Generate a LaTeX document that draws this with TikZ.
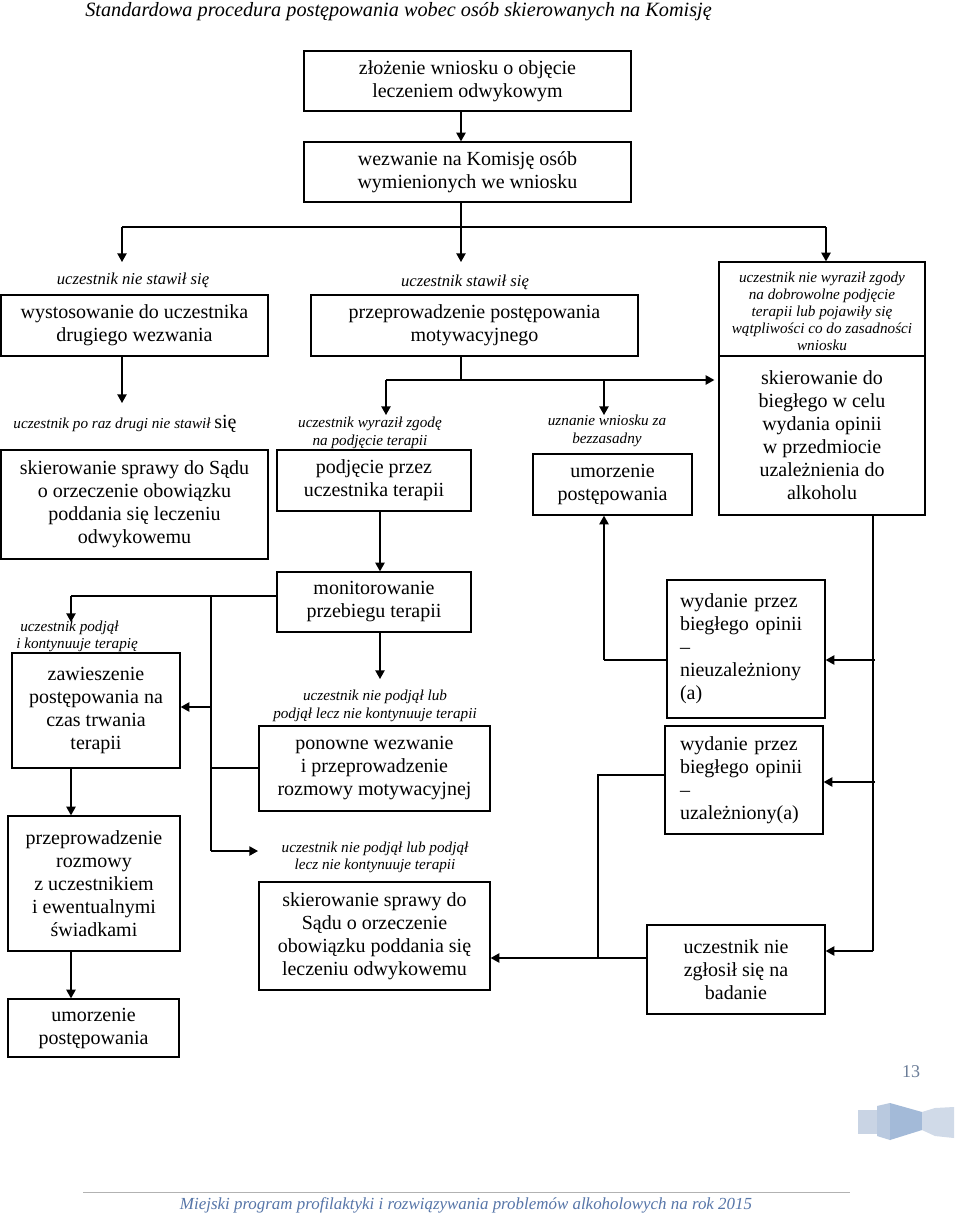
\documentclass[tikz,border=0pt]{standalone}
\usepackage{fontspec}
\setmainfont{Liberation Serif}
\usetikzlibrary{arrows.meta}
\definecolor{footblue}{HTML}{5675A8}
\definecolor{pgcol}{HTML}{6B7D98}
\definecolor{ribA}{HTML}{C9D4E4}
\definecolor{ribB}{HTML}{A3BAD8}
\definecolor{ribC}{HTML}{B9C9DF}
\definecolor{ribD}{HTML}{D0DAE8}
\begin{document}
\begin{tikzpicture}[x=0.75pt,y=-0.75pt,
 box/.style 2 args={draw, line width=1pt, minimum width=#1*0.75pt, minimum height=#2*0.75pt, inner sep=0pt, align=center, font=\fontsize{15}{17.25}\selectfont},
 lbl/.style={font=\fontsize{12.5}{13}\selectfont\itshape, align=center, inner sep=0pt},
 slbl/.style={font=\fontsize{11.4}{13}\selectfont\itshape, align=center, inner sep=0pt},
 ln/.style={line width=1pt},
 arr/.style={line width=1pt, -{Triangle[length=6.5pt,width=7pt]}},
]
\useasboundingbox[fill=white] (0,0) rectangle (960,1218);

% header
\node[font=\fontsize{15.2}{18}\selectfont\itshape, anchor=west, inner sep=0pt] (hd) at (85,12) {Standardowa procedura postępowania wobec osób skierowanych na Komisję};

% top boxes
\node[box={327}{60}] (b1) at (467.5,81) {złożenie wniosku o objęcie\\leczeniem odwykowym};
\node[box={327}{60}] (b2) at (467.5,172) {wezwanie na Komisję osób\\wymienionych we wniosku};
\coordinate (jc) at (461,227);
\coordinate (jl) at (122,227);
\coordinate (jr) at (826,227);
\draw[arr] (b1.south -| jc) -- (b2.north -| jc);
\draw[ln] (b2.south -| jc) -- (jc);
\draw[ln] (jl) -- (jr);
\coordinate (tl) at (122,262);
\coordinate (tm) at (461,262);
\draw[arr] (jl) -- (tl);
\draw[arr] (jc) -- (tm);

% left column top
\node[lbl] (l1) at (133,280) {uczestnik nie stawił się};
\node[box={267}{61}] (w1) at (134.5,325.5) {wystosowanie do uczestnika\\drugiego wezwania};
\coordinate (t2) at (122,403);
\draw[arr] (w1.south -| t2) -- (t2);
\node[slbl] (l2) at (125,424) {uczestnik po raz drugi nie stawił {\upshape\fontsize{15}{17}\selectfont się}};
\node[box={267}{109}] (s1) at (134.5,504.5) {skierowanie sprawy do Sądu\\o orzeczenie obowiązku\\poddania się leczeniu\\odwykowemu};

% middle
\node[lbl] (l3) at (465,282) {uczestnik stawił się};
\node[box={327}{61}] (m1) at (474.5,325.5) {przeprowadzenie postępowania\\motywacyjnego};

% right big box
\node[box={206}{94}] (R0) at (822,309) {};
\node[font=\fontsize{11.4}{12.75}\selectfont\itshape, align=center, inner sep=0pt] (R0t) at (822,311) {uczestnik nie wyraził zgody\\na dobrowolne podjęcie\\terapii lub pojawiły się\\wątpliwości co do zasadności\\wniosku};
\node[box={206}{159}] (R) at (822,435.5) {skierowanie do\\biegłego w celu\\wydania opinii\\w przedmiocie\\uzależnienia do\\alkoholu};
\draw[arr] (jr) -- (R0.north -| jr);

\coordinate (k) at (461,380);
\coordinate (kl) at (386,380);
\coordinate (km) at (604,380);
\coordinate (a4) at (386,415);
\coordinate (a5) at (604,415);
\draw[ln] (m1.south -| k) -- (k);
\draw[arr, shorten >=3pt] (kl) -- (R.west |- kl);
\draw[arr] (kl) -- (a4);
\draw[arr] (km) -- (a5);

\node[slbl] (l4) at (370,433) {uczestnik wyraził zgodę\\na podjęcie terapii};
\node[box={194}{61}] (p1) at (374,480.5) {podjęcie przez\\uczestnika terapii};
\node[slbl] (l5) at (607,431) {uznanie wniosku za\\bezzasadny};
\node[box={159}{61}] (u1) at (612.5,484.5) {umorzenie\\postępowania};

% monitoring
\node[box={194}{60}] (mo) at (374,602) {monitorowanie\\przebiegu terapii};
\coordinate (mx) at (380,0);
\draw[arr] (p1.south -| mx) -- (mo.north -| mx);

\coordinate (q) at (211,596);
\coordinate (ql) at (71,596);
\coordinate (qd) at (71,622);
\coordinate (qb) at (211,851);
\coordinate (qe) at (258,851);
\coordinate (qz) at (211,707);
\draw[ln] (mo.west |- q) -- (ql);
\draw[arr] (ql) -- (qd);
\draw[ln] (q) -- (qb);
\draw[arr] (qb) -- (qe);

\node[slbl, align=left, anchor=west] (l6) at (16,636.5) {\hspace*{3pt}uczestnik podjął\\i kontynuuje terapię};
\node[box={168}{115}] (zw) at (96,710.5) {zawieszenie\\postępowania na\\czas trwania\\terapii};
\draw[arr] (qz) -- (zw.east |- qz);
\node[box={172}{135}] (pr) at (94,883.5) {przeprowadzenie\\rozmowy\\z uczestnikiem\\i ewentualnymi\\świadkami};
\node[box={171}{58}] (u2) at (93.5,1028) {umorzenie\\postępowania};
\coordinate (zx) at (71,0);
\draw[arr] (zw.south -| zx) -- (pr.north -| zx);
\draw[arr] (pr.south -| zx) -- (u2.north -| zx);

\coordinate (md) at (380,679);
\draw[arr] (mo.south -| mx) -- (md);
\node[slbl] (l7) at (375,706) {uczestnik nie podjął lub\\podjął lecz nie kontynuuje terapii};
\node[box={231}{85}] (po) at (374.5,768.5) {ponowne wezwanie\\i przeprowadzenie\\rozmowy motywacyjnej};
\coordinate (py) at (211,768);
\draw[ln] (po.west |- py) -- (py);
\node[slbl] (l8) at (375,857.5) {uczestnik nie podjął lub podjął\\lecz nie kontynuuje terapii};
\node[box={231}{108}] (s2) at (374.5,936) {skierowanie sprawy do\\Sądu o orzeczenie\\obowiązku poddania się\\leczeniu odwykowemu};

% right column
\node[box={158}{138}, align=left, text width=132*0.75pt] (nz) at (746,649) {wydanie przez\\biegłego opinii\\–\\nieuzależniony\\(a)};
\node[box={158}{108}, align=left, text width=128*0.75pt] (uz) at (744,780) {wydanie przez\\biegłego opinii\\–\\uzależniony(a)};
\node[box={178}{89}] (nb) at (736,969.5) {uczestnik nie\\zgłosił się na\\badanie};

\coordinate (v) at (873,0);
\coordinate (vb) at (873,951);
\coordinate (h1) at (875,660);
\coordinate (h2) at (875,782);
\draw[ln] (R.south -| v) -- (vb);
\draw[arr] (vb) -- (nb.east |- vb);
\draw[arr] (h1) -- (nz.east |- h1);
\draw[arr] (h2) -- (uz.east |- h2);

\coordinate (g1) at (604,660);
\draw[ln] (nz.west |- g1) -- (g1);
\draw[arr] (g1) -- (u1.south -| g1);
\coordinate (g2) at (598,775);
\coordinate (g3) at (598,958);
\draw[ln] (uz.west |- g2) -- (g2) -- (g3);
\draw[arr] (nb.west |- g3) -- (s2.east |- g3);

% page number and ornament
\node[text=pgcol, font=\fontsize{13.5}{14}\selectfont, inner sep=0pt] (pg) at (911,1072) {13};
\fill[ribA] (858,1110) rectangle (877,1134);
\fill[ribC] (877,1106) -- (890,1103) -- (890,1140) -- (877,1136) -- cycle;
\fill[ribB] (890,1103) -- (922,1112) -- (922,1130) -- (890,1140) -- cycle;
\fill[ribD] (922,1112) -- (935,1108) -- (954,1107) -- (954,1138) -- (935,1136) -- (922,1130) -- cycle;

% footer
\coordinate (fl) at (83,1192);
\coordinate (fr) at (850,1192);
\draw[gray!60, line width=0.75pt] (fl) -- (fr);
\node[text=footblue, font=\fontsize{12.7}{15}\selectfont\itshape, inner sep=0pt] (ft) at (466,1205) {Miejski program profilaktyki i rozwiązywania problemów alkoholowych na rok 2015};
\end{tikzpicture}
\end{document}
